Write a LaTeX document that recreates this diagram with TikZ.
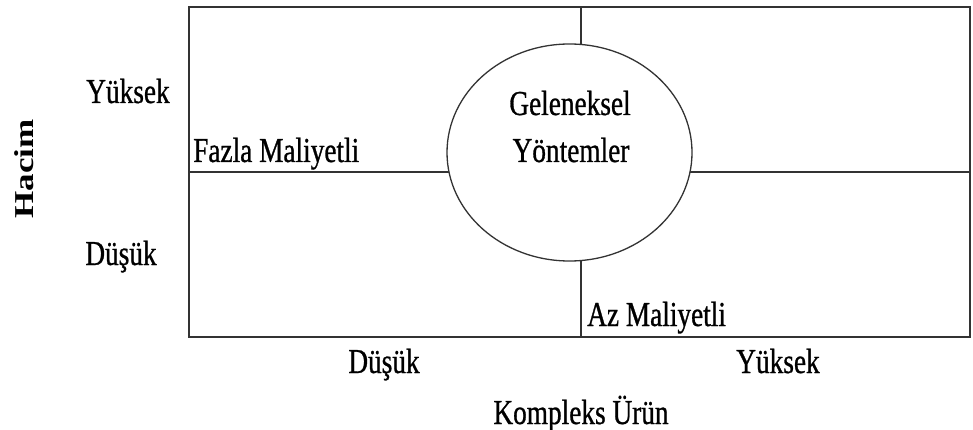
\documentclass[tikz,border=0pt]{standalone}
\usepackage{fontspec}
\setmainfont{Liberation Serif}[FakeStretch=0.78,FakeBold=0.8]
\newfontfamily\plainserif{Liberation Serif}
\usetikzlibrary{shapes.geometric}
\begin{document}
\begin{tikzpicture}[x=1pt,y=-1pt,
  frame/.style={line width=1.7pt,draw=black!80},
  divider/.style={line width=1.5pt,draw=black!80},
  oval/.style={ellipse,draw=black!80,line width=1.3pt,fill=white,
    minimum width=245pt,minimum height=217pt,inner sep=0pt},
  lbl/.style={inner sep=0pt,font=\fontsize{35}{40}\selectfont}]
\useasboundingbox (0,0) rectangle (973,430);
% quadrant frame
\coordinate (tl) at (189,7);
\coordinate (br) at (970,337);
\coordinate (topmid) at (581,7);
\coordinate (botmid) at (581,337);
\coordinate (leftmid) at (189,172);
\coordinate (rightmid) at (970,172);
\draw[divider] (topmid) -- (botmid);
\draw[divider] (leftmid) -- (rightmid);
\draw[frame] (tl) rectangle (br);
% central oval
\node[oval] (ell) at (569.5,152.5) {};
\node[lbl,anchor=base] (gel) at (570,115) {Geleneksel};
\node[lbl,anchor=base] (yon) at (571,162) {Yöntemler};
% quadrant labels
\node[lbl,anchor=base west] (fazla) at (193,162) {Fazla Maliyetli};
\node[lbl,anchor=base west] (az) at (587,326) {Az Maliyetli};
% vertical axis
\node[lbl,anchor=base] (vy) at (128,103) {Yüksek};
\node[lbl,anchor=base] (vd) at (121,265) {Düşük};
\node[inner sep=0pt,rotate=90,anchor=base] (hacim) at (33,169)
  {\scalebox{1}[0.78]{\plainserif\fontsize{35}{40}\selectfont\bfseries Hacim}};
% horizontal axis
\node[lbl,anchor=base] (hd) at (384,373) {Düşük};
\node[lbl,anchor=base] (hy) at (778,373) {Yüksek};
\node[lbl,anchor=base] (kom) at (581,424) {Kompleks Ürün};
\end{tikzpicture}
\end{document}
